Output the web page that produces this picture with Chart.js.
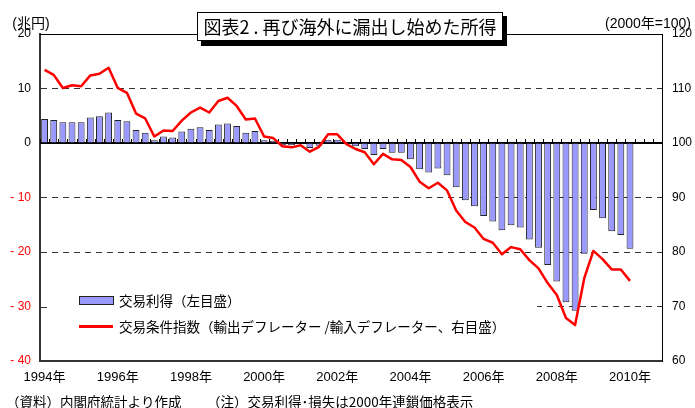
<!DOCTYPE html>
<html lang="ja">
<head>
<meta charset="utf-8">
<script src="https://cdn.jsdelivr.net/npm/chart.js@4.4.1/dist/chart.umd.min.js"></script>
<style>
  html, body { margin: 0; padding: 0; background: #fff; }
  #wrap { width: 695px; height: 408px; }
</style>
</head>
<body>
<div id="wrap"><canvas id="chart" width="695" height="408"></canvas></div>
<script>
const canvas = document.getElementById("chart");

//四半期の目盛り (1994年1-3月期〜2010年10-12月期)
const years = [1994, 1995, 1996, 1997, 1998, 1999, 2000, 2001, 2002,
    2003, 2004, 2005, 2006, 2007, 2008, 2009, 2010];
const quarters = [];
years.forEach(y => {
    for (let q = 1; q <= 4; q++) quarters.push(y + "/" + q);
});

//交易利得 (兆円、左目盛)
const tradeGain = [
    4.4, 4.2, 3.8, 3.8, 3.8, 4.7, 4.9, 5.6, 4.2, 4.0,
    2.4, 1.9, 0.5, 1.2, 1.0, 2.1, 2.6, 2.9, 2.4, 3.4,
    3.6, 3.1, 1.9, 2.2, 0.5, 0.4, -0.4, -0.4, -0.1, -0.9,
    -0.5, 0.6, 0.6, -0.1, -0.6, -1.1, -2.2, -1.1, -1.8, -1.8,
    -3.0, -4.8, -5.4, -4.7, -5.9, -8.1, -10.5, -11.6, -13.4, -14.4,
    -16.0, -15.1, -15.5, -17.7, -19.2, -22.4, -25.4, -29.2, -30.8, -20.3,
    -12.3, -13.8, -16.2, -16.9, -19.4
];

//交易条件指数 (2000年=100、右目盛)
const termsOfTrade = [
    113.4, 112.5, 110.1, 110.6, 110.4, 112.4, 112.7, 113.8, 110.1, 109.2,
    105.4, 104.5, 101.2, 102.3, 102.2, 104.1, 105.6, 106.5, 105.6, 107.7,
    108.3, 106.8, 104.3, 104.5, 101.2, 100.9, 99.4, 99.2, 99.6, 98.4,
    99.3, 101.6, 101.6, 99.8, 98.9, 98.3, 96.1, 98.0, 97.0, 96.9,
    95.6, 92.9, 91.7, 92.7, 91.3, 87.6, 85.5, 84.5, 82.4, 81.7,
    79.6, 80.9, 80.5, 78.5, 77.0, 74.3, 72.1, 67.9, 66.6, 75.2,
    80.2, 78.7, 76.8, 76.8, 74.7
];

const leftTicks = [20, 10, 0, -10, -20, -30, -40];
const rightTicks = [120, 110, 100, 90, 80, 70, 60];
const dashedLevels = [10, -10, -20, -30];

const titleText = "図表2 . 再び海外に漏出し始めた所得";
const leftUnit = "(兆円)";
const rightUnit = "(2000年=100)";
const legendLabels = ["交易利得（左目盛）", "交易条件指数（輸出デフレーター /輸入デフレーター、右目盛）"];
const notes = ["（資料）内閣府統計より作成", "（注）交易利得･損失は2000年連鎖価格表示"];

const barColor = "#9999ff";
const lineColor = "#ff0000";
const numFont = '"Liberation Sans", "Noto Sans CJK JP", sans-serif';
const jpFont = '"Noto Sans CJK JP", sans-serif';

//ゼロ線と四半期の目盛り、上枠
const framePlugin = {
    id: "frame",
    beforeDatasetsDraw(chart) {
        const { ctx, chartArea: a, scales } = chart;
        const y0 = scales.y.getPixelForValue(0);
        const step = (a.right - a.left) / quarters.length;
        ctx.save();
        ctx.strokeStyle = "#000";
        ctx.lineWidth = 1;
        for (let i = 0; i <= quarters.length; i++) {
            const x = Math.round(scales.x.getPixelForValue(i) - step / 2) + 0.5;
            ctx.beginPath();
            ctx.moveTo(x, y0 - 4);
            ctx.lineTo(x, y0);
            ctx.stroke();
        }
        ctx.lineWidth = 2;
        ctx.beginPath();
        ctx.moveTo(a.left, y0);
        ctx.lineTo(a.right, y0);
        ctx.stroke();
        ctx.lineWidth = 1;
        ctx.beginPath();
        ctx.moveTo(a.left, a.top + 0.5);
        ctx.lineTo(a.right, a.top + 0.5);
        ctx.stroke();
        ctx.restore();
    }
};

//凡例、タイトル、単位、注記
const textPlugin = {
    id: "texts",
    afterDraw(chart) {
        const { ctx, chartArea: a, scales } = chart;
        ctx.save();

        //凡例 (白地で-30の点線を隠す)
        ctx.fillStyle = "#fff";
        ctx.fillRect(a.left + 1, 284, 537 - a.left - 1, 58);
        const y30 = Math.round(scales.y.getPixelForValue(-30)) + 0.5;
        ctx.strokeStyle = "#333";
        ctx.lineWidth = 1;
        ctx.beginPath();
        ctx.moveTo(a.left, y30);
        ctx.lineTo(a.left + 7, y30);
        ctx.stroke();

        ctx.fillStyle = barColor;
        ctx.fillRect(79.5, 296.5, 34, 8);
        ctx.strokeStyle = "#222";
        ctx.strokeRect(79.5, 296.5, 34, 8);
        ctx.strokeStyle = lineColor;
        ctx.lineWidth = 3;
        ctx.beginPath();
        ctx.moveTo(79, 326.5);
        ctx.lineTo(113, 326.5);
        ctx.stroke();

        ctx.fillStyle = "#000";
        ctx.textBaseline = "middle";
        ctx.textAlign = "left";
        ctx.font = "13.5px " + jpFont;
        ctx.fillText(legendLabels[0], 119, 301);
        ctx.fillText(legendLabels[1], 119, 327);

        //単位
        ctx.font = "14px " + numFont;
        ctx.textAlign = "center";
        ctx.fillText(leftUnit, 31, 24);
        ctx.textAlign = "right";
        ctx.fillText(rightUnit, 691, 24);

        //注記
        ctx.textAlign = "left";
        ctx.font = "13.5px " + jpFont;
        ctx.fillText(notes[0], 6, 402);
        ctx.fillText(notes[1], 207, 402);

        //タイトル枠
        ctx.fillStyle = "#000";
        ctx.fillRect(201, 16, 306, 30);
        ctx.fillStyle = "#fff";
        ctx.fillRect(197, 12, 306, 29);
        ctx.strokeStyle = "#000";
        ctx.lineWidth = 1;
        ctx.strokeRect(197.5, 12.5, 305, 28);
        ctx.fillStyle = "#000";
        ctx.textAlign = "center";
        ctx.font = "18px " + jpFont;
        ctx.fillText(titleText, 350, 27);

        ctx.restore();
    }
};

let myChart = new Chart(canvas, {
    plugins: [framePlugin, textPlugin],
    data: {
        labels: quarters,
        datasets: [
            {
                type: "line",
                label: legendLabels[1],
                data: termsOfTrade,
                yAxisID: "y2",
                borderColor: lineColor,
                borderWidth: 2.5,
                pointRadius: 0,
                tension: 0,
                borderJoinStyle: "round",
                order: 0
            },
            {
                type: "bar",
                label: legendLabels[0],
                data: tradeGain,
                yAxisID: "y",
                backgroundColor: barColor,
                borderColor: "#222",
                borderWidth: 1,
                barPercentage: 0.75,
                categoryPercentage: 1,
                order: 1
            }
        ]
    },
    options: {
        responsive: false,
        animation: false,
        layout: { padding: { top: 34, left: 0, right: 0, bottom: 0 } },
        plugins: {
            legend: { display: false },
            tooltip: { enabled: false }
        },
        scales: {
            x: {
                type: "category",
                offset: true,
                grid: { display: false, drawTicks: false },
                border: { color: "#333", width: 2 },
                ticks: {
                    autoSkip: false,
                    maxRotation: 0,
                    padding: 9,
                    color: "#000",
                    font: { size: 13, family: numFont },
                    callback: (v, i) => (i % 8 === 0 ? years[i / 4] + "年" : "")
                },
                afterFit: s => { s.height = 47; }
            },
            y: {
                position: "left",
                min: -40,
                max: 20,
                afterBuildTicks: s => { s.ticks = leftTicks.map(v => ({ value: v })); },
                grid: {
                    drawTicks: false,
                    lineWidth: 1,
                    color: c => (dashedLevels.includes(c.tick.value) ? "#333" : "rgba(0,0,0,0)")
                },
                border: { color: "#333", width: 2, dash: [6, 5] },
                ticks: {
                    padding: 9,
                    font: { size: 12, family: numFont },
                    color: c => (c.tick.value < 0 ? "#ff0000" : "#000"),
                    callback: v => (v < 0 ? "- " + (-v) : v)
                },
                afterFit: s => { s.width = 40; }
            },
            y2: {
                position: "right",
                min: 60,
                max: 120,
                afterBuildTicks: s => { s.ticks = rightTicks.map(v => ({ value: v })); },
                grid: { drawOnChartArea: false, drawTicks: false },
                border: { color: "#000", width: 1 },
                ticks: {
                    padding: 10,
                    color: "#000",
                    font: { size: 12, family: numFont }
                },
                afterFit: s => { s.width = 33; }
            }
        }
    }
});
</script>
</body>
</html>
